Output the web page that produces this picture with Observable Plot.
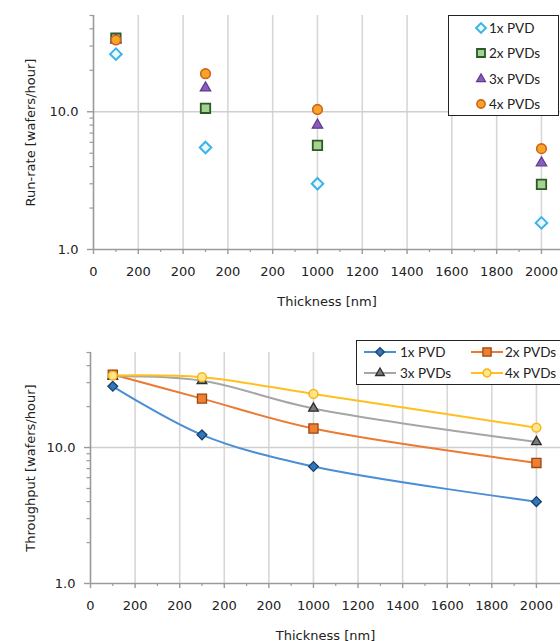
<!DOCTYPE html>
<html><head><meta charset="utf-8">
<script src="https://cdn.jsdelivr.net/npm/d3@7"></script>
<script src="https://cdn.jsdelivr.net/npm/@observablehq/plot@0.6"></script>
<style>
body{margin:0;background:#fff;}
#wrap{position:relative;width:560px;height:641px;overflow:hidden;}
#wrap svg.plot{display:block;}
.legend{position:absolute;border:1.6px solid #222;background:#fff;box-sizing:border-box;font-family:Lato,"Open Sans",sans-serif;color:#222;}
.item{position:absolute;display:flex;align-items:center;white-space:nowrap;}
.item svg{display:block;}
</style></head><body><div id="wrap"></div>
<script>
// ---- data ----
const thickness = [100, 500, 1000, 2000];
const series = ["1x PVD", "2x PVDs", "3x PVDs", "4x PVDs"];
// Run-rate [wafers/hour]
const runRate1x = [26.2, 5.5, 3.0, 1.56];
const runRate2x = [34.2, 10.6, 5.7, 2.97];
const runRate3x = [33.4, 14.9, 8.0, 4.25];
const runRate4x = [33.2, 18.9, 10.4, 5.4];
// Throughput [wafers/hour]
const throughput1x = [28.2, 12.4, 7.25, 4.0];
const throughput2x = [34.4, 22.9, 13.8, 7.7];
const throughput3x = [33.4, 31.0, 19.4, 11.0];
const throughput4x = [33.8, 32.9, 24.8, 14.0];
// axes
const xTicks = [0, 200, 400, 600, 800, 1000, 1200, 1400, 1600, 1800, 2000];
const xTickLabels = ["0", "200", "200", "200", "200", "1000", "1200", "1400", "1600", "1800", "2000"];
const xMinorTicks = [100, 300, 500, 700, 900, 1100, 1300, 1500, 1700, 1900];
const yMajorTicks = [1, 10];
const yTickLabels = ["1.0", "10.0"];
const yMinorTicks = [2, 3, 4, 5, 6, 7, 8, 9, 20, 30, 40, 50];

// ---- styles ----
const topStyles = [
  {symbol: "diamond2", r: 5.2, fill: "#eaf7fd", stroke: "#3cb3e6", strokeWidth: 2},
  {symbol: "square2", r: 6.0, fill: "#a6d28f", stroke: "#2c5a27", strokeWidth: 1.8},
  {symbol: "triangle2", r: 5.0, fill: "#8b5cbf", stroke: "#5d3a8c", strokeWidth: 1.2},
  {symbol: "circle", r: 4.8, fill: "#f7a428", stroke: "#d0621b", strokeWidth: 1.6}
];
const botStyles = [
  {line: "#4a8ed6", symbol: "diamond2", r: 4.4, fill: "#2f78c0", stroke: "#1d3f66", strokeWidth: 1.3},
  {line: "#ec7a33", symbol: "square2", r: 5.8, fill: "#ef7f31", stroke: "#9a4714", strokeWidth: 1.3},
  {line: "#a6a6a6", symbol: "triangle2", r: 4.6, fill: "#7a7a7a", stroke: "#2d2d2d", strokeWidth: 1.3},
  {line: "#ffbf1f", symbol: "circle", r: 4.4, fill: "#ffe58a", stroke: "#f6b419", strokeWidth: 1.5}
];

const runRate = [runRate1x, runRate2x, runRate3x, runRate4x];
const throughput = [throughput1x, throughput2x, throughput3x, throughput4x];
const toRows = (vals) => series.flatMap((s, si) => thickness.map((t, i) => ({series: s, si, t, v: vals[si][i]})));
const rrRows = toRows(runRate);
const tpRows = toRows(throughput);

const FONT = "DejaVu Sans";
const fmtX = d => xTickLabels[xTicks.indexOf(d)];
const fmtY = d => yTickLabels[yMajorTicks.indexOf(d)];

function frameMarks(xMax, yLabel, yLabelOffset) {
  return [
    Plot.ruleX(xTicks.filter(d => d > 0), {y1: 1, y2: 50, stroke: "#d9d6d6", strokeWidth: 1.6}),
    Plot.ruleY([10], {x1: 0, x2: xMax, stroke: "#cfcfcf", strokeWidth: 1.4}),
    Plot.ruleY([1], {x1: 0, x2: xMax, stroke: "#9a9a9a", strokeWidth: 1.6}),
    Plot.ruleX([0], {y1: 1, y2: 50, stroke: "#9a9a9a", strokeWidth: 1.6}),
    Plot.axisX({ticks: xTicks, tickFormat: fmtX, tickSize: 5, tickPadding: 12, stroke: "#9a9a9a", strokeWidth: 1.4, fill: "#222",
      label: "Thickness [nm]", labelAnchor: "center", labelOffset: 56, labelArrow: "none"}),
    Plot.axisX({ticks: xMinorTicks, tickSize: 3, text: null, stroke: "#9a9a9a", strokeWidth: 1.2, label: null}),
    Plot.axisY({ticks: yMajorTicks, tickFormat: fmtY, tickSize: 6, tickPadding: 9, stroke: "#9a9a9a", strokeWidth: 1.4, fill: "#222",
      label: yLabel, labelAnchor: "center", labelOffset: yLabelOffset, labelArrow: "none"}),
    Plot.axisY({ticks: yMinorTicks, tickSize: 3.5, text: null, stroke: "#9a9a9a", strokeWidth: 1.2, label: null})
  ];
}

const topChart = Plot.plot({
  width: 560, height: 320,
  marginLeft: 93, marginRight: 0, marginTop: 15, marginBottom: 71,
  style: {fontFamily: FONT, fontSize: "13px", color: "#222", background: "#fff"},
  x: {domain: [0, 2085], label: null},
  y: {type: "log", domain: [1, 50], label: null},
  marks: [
    ...frameMarks(2085, "Run-rate [wafers/hour]", 68),
    ...topStyles.map((st, si) => Plot.dot(rrRows.filter(d => d.si === si), {
      x: "t", y: "v", symbol: st.symbol, r: st.r, fill: st.fill, stroke: st.stroke, strokeWidth: st.strokeWidth
    }))
  ]
});
topChart.classList.add("plot");

const botChart = Plot.plot({
  width: 560, height: 321,
  marginLeft: 90, marginRight: 0, marginTop: 32, marginBottom: 58,
  style: {fontFamily: FONT, fontSize: "13px", color: "#222", background: "#fff"},
  x: {domain: [0, 2108], label: null},
  y: {type: "log", domain: [1, 50], label: null},
  marks: [
    ...frameMarks(2108, "Throughput [wafers/hour]", 65),
    ...botStyles.map((st, si) => Plot.line(tpRows.filter(d => d.si === si), {
      x: "t", y: "v", stroke: st.line, strokeWidth: 2, curve: "catmull-rom"
    })),
    ...botStyles.map((st, si) => Plot.dot(tpRows.filter(d => d.si === si), {
      x: "t", y: "v", symbol: st.symbol, r: st.r, fill: st.fill, stroke: st.stroke, strokeWidth: st.strokeWidth
    }))
  ]
});
botChart.classList.add("plot");

const wrap = document.getElementById("wrap");
wrap.appendChild(topChart);
wrap.appendChild(botChart);

// ---- legends ----
const symbolMap = {diamond2: d3.symbolDiamond2, square2: d3.symbolSquare2, triangle2: d3.symbolTriangle2, circle: d3.symbolCircle};
function symbolSvg(st, r, withLine) {
  const w = withLine ? 32 : 14, h = 14;
  const size = r * r * Math.PI;
  const path = d3.symbol(symbolMap[st.symbol], size)();
  const line = withLine ? `<line x1="0" x2="${w}" y1="${h/2}" y2="${h/2}" stroke="${st.line}" stroke-width="2"/>` : "";
  return `<svg width="${w}" height="${h}">${line}<path transform="translate(${w/2},${h/2})" d="${path}" fill="${st.fill}" stroke="${st.stroke}" stroke-width="${st.strokeWidth}"/></svg>`;
}

const topLeg = document.createElement("div");
topLeg.className = "legend";
Object.assign(topLeg.style, {left: "448px", top: "15px", width: "111px", height: "101px", fontSize: "13.5px"});
series.forEach((s, i) => {
  const it = document.createElement("div");
  it.className = "item";
  Object.assign(it.style, {left: "25px", top: (3 + i * 25.3) + "px", height: "18px"});
  it.innerHTML = symbolSvg(topStyles[i], topStyles[i].r * 0.85, false) + `<span style="margin-left:1px">${s}</span>`;
  topLeg.appendChild(it);
});
wrap.appendChild(topLeg);

const botLeg = document.createElement("div");
botLeg.className = "legend";
Object.assign(botLeg.style, {left: "356px", top: "340px", width: "215px", height: "45px", fontSize: "13.5px"});
series.forEach((s, i) => {
  const it = document.createElement("div");
  it.className = "item";
  const col = i % 2, row = Math.floor(i / 2);
  Object.assign(it.style, {left: (col ? 114 : 7) + "px", top: (2 + row * 21) + "px", height: "18px"});
  it.innerHTML = symbolSvg(botStyles[i], botStyles[i].r * 0.9, true) + `<span style="margin-left:${col ? 2 : 4}px">${s}</span>`;
  botLeg.appendChild(it);
});
wrap.appendChild(botLeg);
</script>
</body></html>
